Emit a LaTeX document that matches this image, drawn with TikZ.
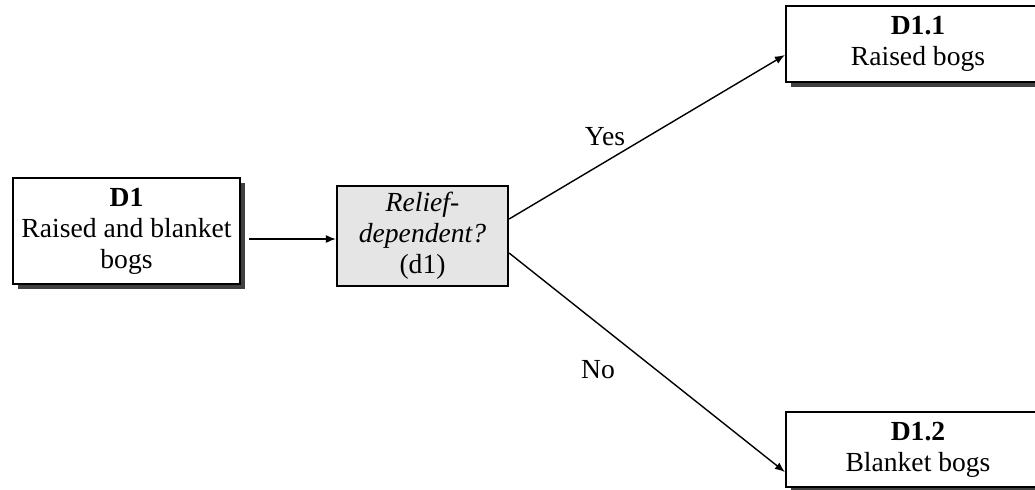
\documentclass[tikz,border=0pt]{standalone}
\usepackage{fontspec}
\setmainfont{Liberation Serif}
\usetikzlibrary{arrows.meta,shadows}
\begin{document}
\begin{tikzpicture}[x=0.5pt,y=-0.5pt,
  every node/.style={font=\fontsize{13.8pt}{15.5pt}\selectfont},
  box/.style={draw=black,line width=1.1pt,fill=white,rectangle,align=center,inner sep=0pt,
    drop shadow={shadow xshift=2.5pt,shadow yshift=-2.5pt,fill=black!75,opacity=1}},
  qbox/.style={draw=black,line width=1.1pt,fill=black!10,rectangle,align=center,inner sep=0pt},
  link/.style={line width=0.7pt,-{Latex[length=5pt,width=4pt]}}]
\useasboundingbox (0,0) rectangle (1035,489);
\node[box,minimum width=113.5pt,minimum height=53pt] (d1) at (126.5,231)
  {\textbf{D1}\\Raised and blanket\\bogs};
\node[qbox,minimum width=85.5pt,minimum height=50pt] (q) at (422.5,236)
  {\textit{Relief-}\\\textit{dependent?}\\(d1)};
\node[box,minimum width=132pt,minimum height=38pt] (d11) at (918,44)
  {\textbf{D1.1}\\Raised bogs};
\node[box,minimum width=132pt,minimum height=37.5pt] (d12) at (918,449.5)
  {\textbf{D1.2}\\Blanket bogs};
\draw[link,shorten <=4pt] ([yshift=-4pt]d1.east) -- ([yshift=-1.5pt]q.west);
\draw[link] ([yshift=8.5pt]q.east) -- ([yshift=-5.5pt]d11.west);
\draw[link] ([yshift=-8.5pt]q.east) -- ([yshift=-11.25pt]d12.west);
\node (yes) at (605,137) {Yes};
\node (no) at (598,370) {No};
\end{tikzpicture}
\end{document}
